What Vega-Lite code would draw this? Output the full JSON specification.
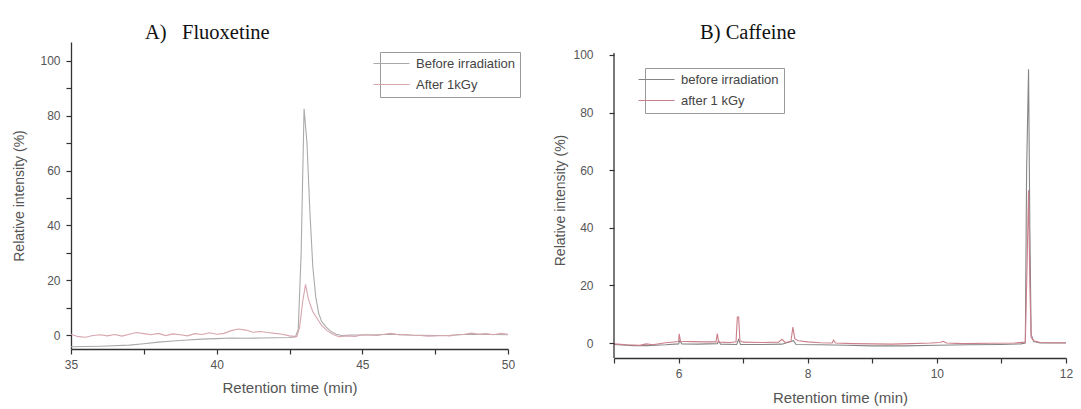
{
  "$schema": "https://vega.github.io/schema/vega-lite/v6.json",
  "background": "white",
  "padding": {"left": 12, "top": 22, "right": 5, "bottom": 2},
  "spacing": 32,
  "config": {
    "view": {"stroke": null},
    "axis": {"domainColor": "#333", "domainWidth": 1.3, "tickColor": "#333", "tickWidth": 1.2, "tickSize": 5, "labelFont": "Liberation Sans", "labelFontSize": 12, "labelColor": "#555", "titleFont": "Liberation Sans", "titleFontSize": 14, "titleFontWeight": "normal", "titleColor": "#555", "grid": false},
    "legend": {"labelFont": "Liberation Sans", "labelFontSize": 13, "labelColor": "#444", "strokeColor": "#999", "padding": 5, "symbolType": "M-9,0H9", "symbolSize": 16, "symbolStrokeWidth": 1.2, "labelOffset": 18, "rowPadding": 7, "title": null}
  },
  "resolve": {"scale": {"color": "independent", "x": "independent", "y": "independent"}, "legend": {"color": "independent"}},
  "hconcat": [
    {
      "width": 437, "height": 307,
      "title": {"text": "A)\u00a0\u00a0\u00a0Fluoxetine", "anchor": "start", "frame": "group", "dx": 74, "font": "Liberation Serif", "fontSize": 20.5, "fontWeight": "normal", "color": "#111", "offset": -17, "baseline": "alphabetic"},
      "data": {"values": [
        {"t": 35, "v": -4.3, "s": "Before irradiation"},
        {"t": 36, "v": -4.1, "s": "Before irradiation"},
        {"t": 37, "v": -3.7, "s": "Before irradiation"},
        {"t": 37.5, "v": -3.2, "s": "Before irradiation"},
        {"t": 38, "v": -2.6, "s": "Before irradiation"},
        {"t": 38.5, "v": -2.2, "s": "Before irradiation"},
        {"t": 39, "v": -1.8, "s": "Before irradiation"},
        {"t": 39.5, "v": -1.5, "s": "Before irradiation"},
        {"t": 40, "v": -1.3, "s": "Before irradiation"},
        {"t": 40.5, "v": -1.1, "s": "Before irradiation"},
        {"t": 41, "v": -1.2, "s": "Before irradiation"},
        {"t": 41.5, "v": -1.1, "s": "Before irradiation"},
        {"t": 42, "v": -1.0, "s": "Before irradiation"},
        {"t": 42.5, "v": -0.9, "s": "Before irradiation"},
        {"t": 42.7, "v": -0.7, "s": "Before irradiation"},
        {"t": 42.8, "v": 2, "s": "Before irradiation"},
        {"t": 42.9, "v": 30, "s": "Before irradiation"},
        {"t": 43.0, "v": 82.5, "s": "Before irradiation"},
        {"t": 43.1, "v": 70, "s": "Before irradiation"},
        {"t": 43.2, "v": 45, "s": "Before irradiation"},
        {"t": 43.3, "v": 25, "s": "Before irradiation"},
        {"t": 43.4, "v": 14, "s": "Before irradiation"},
        {"t": 43.5, "v": 8, "s": "Before irradiation"},
        {"t": 43.6, "v": 5, "s": "Before irradiation"},
        {"t": 43.75, "v": 3, "s": "Before irradiation"},
        {"t": 43.9, "v": 1.5, "s": "Before irradiation"},
        {"t": 44.1, "v": 0.3, "s": "Before irradiation"},
        {"t": 44.3, "v": -0.2, "s": "Before irradiation"},
        {"t": 44.6, "v": 0, "s": "Before irradiation"},
        {"t": 45, "v": 0, "s": "Before irradiation"},
        {"t": 45.5, "v": 0.1, "s": "Before irradiation"},
        {"t": 46, "v": 0.3, "s": "Before irradiation"},
        {"t": 46.5, "v": 0, "s": "Before irradiation"},
        {"t": 47, "v": -0.1, "s": "Before irradiation"},
        {"t": 47.5, "v": -0.2, "s": "Before irradiation"},
        {"t": 48, "v": -0.1, "s": "Before irradiation"},
        {"t": 48.5, "v": 0.2, "s": "Before irradiation"},
        {"t": 49, "v": 0.3, "s": "Before irradiation"},
        {"t": 49.5, "v": 0.2, "s": "Before irradiation"},
        {"t": 50, "v": 0.1, "s": "Before irradiation"},
        {"t": 35, "v": 0.3, "s": "After 1kGy"},
        {"t": 35.25, "v": -0.6, "s": "After 1kGy"},
        {"t": 35.5, "v": -0.8, "s": "After 1kGy"},
        {"t": 35.75, "v": -0.2, "s": "After 1kGy"},
        {"t": 36, "v": 0.1, "s": "After 1kGy"},
        {"t": 36.25, "v": -0.3, "s": "After 1kGy"},
        {"t": 36.5, "v": 0.2, "s": "After 1kGy"},
        {"t": 36.75, "v": -0.4, "s": "After 1kGy"},
        {"t": 37, "v": 0.3, "s": "After 1kGy"},
        {"t": 37.25, "v": 0.9, "s": "After 1kGy"},
        {"t": 37.5, "v": 0.5, "s": "After 1kGy"},
        {"t": 37.75, "v": 0.1, "s": "After 1kGy"},
        {"t": 38, "v": 0.6, "s": "After 1kGy"},
        {"t": 38.25, "v": -0.2, "s": "After 1kGy"},
        {"t": 38.5, "v": 0.4, "s": "After 1kGy"},
        {"t": 38.75, "v": 0.1, "s": "After 1kGy"},
        {"t": 39, "v": -0.3, "s": "After 1kGy"},
        {"t": 39.25, "v": 0.5, "s": "After 1kGy"},
        {"t": 39.5, "v": 0.2, "s": "After 1kGy"},
        {"t": 39.75, "v": 0.8, "s": "After 1kGy"},
        {"t": 40, "v": 0.3, "s": "After 1kGy"},
        {"t": 40.25, "v": 0.6, "s": "After 1kGy"},
        {"t": 40.5, "v": 1.6, "s": "After 1kGy"},
        {"t": 40.75, "v": 2.2, "s": "After 1kGy"},
        {"t": 41, "v": 1.8, "s": "After 1kGy"},
        {"t": 41.25, "v": 1.0, "s": "After 1kGy"},
        {"t": 41.5, "v": 1.3, "s": "After 1kGy"},
        {"t": 41.75, "v": 0.9, "s": "After 1kGy"},
        {"t": 42, "v": 0.6, "s": "After 1kGy"},
        {"t": 42.25, "v": 0.3, "s": "After 1kGy"},
        {"t": 42.5, "v": -0.3, "s": "After 1kGy"},
        {"t": 42.75, "v": -0.6, "s": "After 1kGy"},
        {"t": 42.85, "v": 3, "s": "After 1kGy"},
        {"t": 42.95, "v": 12, "s": "After 1kGy"},
        {"t": 43.05, "v": 18.5, "s": "After 1kGy"},
        {"t": 43.15, "v": 13, "s": "After 1kGy"},
        {"t": 43.3, "v": 8.5, "s": "After 1kGy"},
        {"t": 43.45, "v": 6, "s": "After 1kGy"},
        {"t": 43.6, "v": 3.5, "s": "After 1kGy"},
        {"t": 43.8, "v": 1.5, "s": "After 1kGy"},
        {"t": 44, "v": 0.2, "s": "After 1kGy"},
        {"t": 44.2, "v": -0.6, "s": "After 1kGy"},
        {"t": 44.5, "v": -0.3, "s": "After 1kGy"},
        {"t": 44.75, "v": -0.5, "s": "After 1kGy"},
        {"t": 45, "v": 0.1, "s": "After 1kGy"},
        {"t": 45.25, "v": 0, "s": "After 1kGy"},
        {"t": 45.5, "v": -0.2, "s": "After 1kGy"},
        {"t": 45.75, "v": 0.3, "s": "After 1kGy"},
        {"t": 46, "v": 0.6, "s": "After 1kGy"},
        {"t": 46.25, "v": 0.1, "s": "After 1kGy"},
        {"t": 46.5, "v": 0.2, "s": "After 1kGy"},
        {"t": 46.75, "v": -0.1, "s": "After 1kGy"},
        {"t": 47, "v": -0.2, "s": "After 1kGy"},
        {"t": 47.25, "v": -0.4, "s": "After 1kGy"},
        {"t": 47.5, "v": -0.3, "s": "After 1kGy"},
        {"t": 47.75, "v": -0.2, "s": "After 1kGy"},
        {"t": 48, "v": -0.3, "s": "After 1kGy"},
        {"t": 48.25, "v": 0.1, "s": "After 1kGy"},
        {"t": 48.5, "v": 0.3, "s": "After 1kGy"},
        {"t": 48.75, "v": 0.7, "s": "After 1kGy"},
        {"t": 49, "v": 0.3, "s": "After 1kGy"},
        {"t": 49.25, "v": 0.5, "s": "After 1kGy"},
        {"t": 49.5, "v": 0.1, "s": "After 1kGy"},
        {"t": 49.75, "v": 0.6, "s": "After 1kGy"},
        {"t": 50, "v": 0.3, "s": "After 1kGy"}
      ]},
      "mark": {"type": "line", "strokeWidth": 1.1},
      "encoding": {
        "x": {"field": "t", "type": "quantitative", "title": "Retention time (min)",
              "scale": {"domain": [35, 50], "nice": false, "zero": false},
              "axis": {"values": [35, 37.5, 40, 42.5, 45, 47.5, 50], "labelExpr": "datum.value % 5 === 0 ? format(datum.value, 'd') : ''", "labelPadding": 5, "titlePadding": 10, "titleFontSize": 15, "labelFlush": false}},
        "y": {"field": "v", "type": "quantitative", "title": "Relative intensity (%)",
              "scale": {"domain": [-5.1, 106.9], "nice": false, "zero": false},
              "axis": {"values": [0, 10, 20, 30, 40, 50, 60, 70, 80, 90, 100], "labelExpr": "datum.value % 20 === 0 ? format(datum.value, 'd') : ''", "labelPadding": 6, "titlePadding": 13}},
        "color": {"field": "s", "type": "nominal", "scale": {"domain": ["Before irradiation", "After 1kGy"], "range": ["#aaaaaa", "#d7a6ae"]},
                  "legend": {"orient": "none", "legendX": 309, "legendY": 10, "title": null}}
      }
    },
    {
      "width": 452, "height": 316,
      "title": {"text": "B)\u00a0Caffeine", "anchor": "start", "frame": "group", "dx": 86, "font": "Liberation Serif", "fontSize": 20.5, "fontWeight": "normal", "color": "#111", "offset": -17, "baseline": "alphabetic"},
      "layer": [
        {
          "data": {"values": [
            {"t": 5.0, "v": -0.5, "s": "before irradiation"},
            {"t": 5.3, "v": -0.9, "s": "before irradiation"},
            {"t": 5.5, "v": -0.9, "s": "before irradiation"},
            {"t": 5.8, "v": -0.6, "s": "before irradiation"},
            {"t": 6.0, "v": -0.3, "s": "before irradiation"},
            {"t": 6.02, "v": 0.8, "s": "before irradiation"},
            {"t": 6.05, "v": -0.3, "s": "before irradiation"},
            {"t": 6.3, "v": -0.4, "s": "before irradiation"},
            {"t": 6.6, "v": -0.2, "s": "before irradiation"},
            {"t": 6.62, "v": 0.8, "s": "before irradiation"},
            {"t": 6.65, "v": -0.4, "s": "before irradiation"},
            {"t": 6.9, "v": -0.5, "s": "before irradiation"},
            {"t": 6.93, "v": 1.2, "s": "before irradiation"},
            {"t": 6.96, "v": -0.5, "s": "before irradiation"},
            {"t": 7.3, "v": -0.5, "s": "before irradiation"},
            {"t": 7.6, "v": -0.4, "s": "before irradiation"},
            {"t": 7.78, "v": 0.8, "s": "before irradiation"},
            {"t": 7.82, "v": -0.5, "s": "before irradiation"},
            {"t": 8.2, "v": -0.6, "s": "before irradiation"},
            {"t": 8.6, "v": -0.8, "s": "before irradiation"},
            {"t": 9.0, "v": -1.0, "s": "before irradiation"},
            {"t": 9.5, "v": -1.0, "s": "before irradiation"},
            {"t": 10.0, "v": -0.8, "s": "before irradiation"},
            {"t": 10.5, "v": -0.6, "s": "before irradiation"},
            {"t": 11.0, "v": -0.5, "s": "before irradiation"},
            {"t": 11.3, "v": -0.3, "s": "before irradiation"},
            {"t": 11.37, "v": 0, "s": "before irradiation"},
            {"t": 11.39, "v": 60, "s": "before irradiation"},
            {"t": 11.42, "v": 95, "s": "before irradiation"},
            {"t": 11.44, "v": 40, "s": "before irradiation"},
            {"t": 11.46, "v": 3, "s": "before irradiation"},
            {"t": 11.5, "v": 0.5, "s": "before irradiation"},
            {"t": 11.6, "v": 0, "s": "before irradiation"},
            {"t": 11.8, "v": 0, "s": "before irradiation"},
            {"t": 12.0, "v": 0, "s": "before irradiation"},
            {"t": 5.0, "v": -0.3, "s": "after 1 kGy"},
            {"t": 5.2, "v": -0.6, "s": "after 1 kGy"},
            {"t": 5.4, "v": -0.8, "s": "after 1 kGy"},
            {"t": 5.5, "v": -0.3, "s": "after 1 kGy"},
            {"t": 5.6, "v": -0.6, "s": "after 1 kGy"},
            {"t": 5.8, "v": 0.1, "s": "after 1 kGy"},
            {"t": 6.0, "v": 0.5, "s": "after 1 kGy"},
            {"t": 6.01, "v": 3.2, "s": "after 1 kGy"},
            {"t": 6.03, "v": 0.6, "s": "after 1 kGy"},
            {"t": 6.2, "v": 0.5, "s": "after 1 kGy"},
            {"t": 6.4, "v": 0.4, "s": "after 1 kGy"},
            {"t": 6.58, "v": 0.4, "s": "after 1 kGy"},
            {"t": 6.6, "v": 3.3, "s": "after 1 kGy"},
            {"t": 6.62, "v": 0.3, "s": "after 1 kGy"},
            {"t": 6.8, "v": 0.2, "s": "after 1 kGy"},
            {"t": 6.89, "v": 0.4, "s": "after 1 kGy"},
            {"t": 6.91, "v": 9, "s": "after 1 kGy"},
            {"t": 6.93, "v": 9, "s": "after 1 kGy"},
            {"t": 6.95, "v": 0.8, "s": "after 1 kGy"},
            {"t": 7.0, "v": 0.3, "s": "after 1 kGy"},
            {"t": 7.3, "v": 0.2, "s": "after 1 kGy"},
            {"t": 7.55, "v": 0.3, "s": "after 1 kGy"},
            {"t": 7.6, "v": 1.3, "s": "after 1 kGy"},
            {"t": 7.65, "v": 0.2, "s": "after 1 kGy"},
            {"t": 7.74, "v": 0.5, "s": "after 1 kGy"},
            {"t": 7.77, "v": 5.5, "s": "after 1 kGy"},
            {"t": 7.8, "v": 1.5, "s": "after 1 kGy"},
            {"t": 7.85, "v": 0.8, "s": "after 1 kGy"},
            {"t": 8.0, "v": 0.4, "s": "after 1 kGy"},
            {"t": 8.2, "v": 0.1, "s": "after 1 kGy"},
            {"t": 8.38, "v": 0, "s": "after 1 kGy"},
            {"t": 8.4, "v": 1, "s": "after 1 kGy"},
            {"t": 8.43, "v": 0, "s": "after 1 kGy"},
            {"t": 8.7, "v": -0.2, "s": "after 1 kGy"},
            {"t": 9.0, "v": -0.3, "s": "after 1 kGy"},
            {"t": 9.3, "v": -0.4, "s": "after 1 kGy"},
            {"t": 9.6, "v": -0.2, "s": "after 1 kGy"},
            {"t": 9.9, "v": 0, "s": "after 1 kGy"},
            {"t": 10.05, "v": 0.2, "s": "after 1 kGy"},
            {"t": 10.1, "v": 0.6, "s": "after 1 kGy"},
            {"t": 10.15, "v": 0, "s": "after 1 kGy"},
            {"t": 10.4, "v": -0.2, "s": "after 1 kGy"},
            {"t": 10.8, "v": -0.1, "s": "after 1 kGy"},
            {"t": 11.2, "v": 0, "s": "after 1 kGy"},
            {"t": 11.37, "v": 0.3, "s": "after 1 kGy"},
            {"t": 11.4, "v": 30, "s": "after 1 kGy"},
            {"t": 11.42, "v": 53, "s": "after 1 kGy"},
            {"t": 11.44, "v": 20, "s": "after 1 kGy"},
            {"t": 11.46, "v": 2, "s": "after 1 kGy"},
            {"t": 11.5, "v": 0.8, "s": "after 1 kGy"},
            {"t": 11.6, "v": 0.2, "s": "after 1 kGy"},
            {"t": 11.8, "v": 0.1, "s": "after 1 kGy"},
            {"t": 12.0, "v": 0.1, "s": "after 1 kGy"}
          ]},
          "mark": {"type": "line", "strokeWidth": 1.1},
          "encoding": {
            "x": {"field": "t", "type": "quantitative", "title": "Retention time (min)",
                  "scale": {"domain": [5, 12], "nice": false, "zero": false},
                  "axis": {"values": [5, 6, 7, 8, 9, 10, 11, 12], "labelExpr": "datum.value % 2 === 0 ? format(datum.value, 'd') : ''", "labelPadding": 5, "titlePadding": 11, "titleFontSize": 15, "labelFlush": false}},
            "y": {"field": "v", "type": "quantitative", "title": "Relative intensity (%)",
                  "scale": {"domain": [-5.2, 104.5], "nice": false, "zero": false},
                  "axis": {"domain": false, "values": [0, 10, 20, 30, 40, 50, 60, 70, 80, 90, 100], "labelExpr": "datum.value % 20 === 0 ? format(datum.value, 'd') : ''", "labelPadding": 16, "titlePadding": 5}},
            "color": {"field": "s", "type": "nominal", "scale": {"domain": ["before irradiation", "after 1 kGy"], "range": ["#858585", "#cc7f8a"]},
                      "legend": {"orient": "none", "legendX": 31, "legendY": 26, "title": null}}
          }
        },
        {
          "data": {"values": [{}]},
          "mark": {"type": "rule", "color": "#333", "strokeWidth": 1.3},
          "encoding": {"x": {"datum": 5}, "y": {"datum": -5.2}, "y2": {"datum": 100.7}}
        }
      ]
    }
  ]
}
